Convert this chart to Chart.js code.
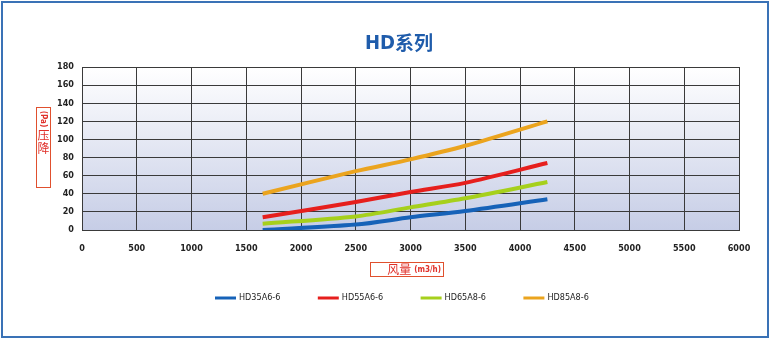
<!DOCTYPE html>
<html>
<head>
<meta charset="utf-8">
<script src="https://cdn.jsdelivr.net/npm/chart.js@4/dist/chart.umd.min.js"></script>
<style>
  html, body { margin: 0; padding: 0; background: #fff; }
  #wrap { width: 770px; height: 338px; position: relative; }
</style>
</head>
<body>
<div id="wrap"><canvas id="c"></canvas></div>
<script>
// 风量 (m3/h) sample points
const airflow = [1650, 2500, 3000, 3500, 4250];
const hd35 = [0, 6, 14, 21, 34];
const hd55 = [14, 31, 42, 52, 74];
const hd65 = [7, 15, 25, 35, 53];
const hd85 = [40, 65, 78, 93, 120];

const seriesNames = ['HD35A6-6', 'HD55A6-6', 'HD65A8-6', 'HD85A8-6'];
const seriesColors = ['#1662b8', '#e61f1d', '#a6d01c', '#eba41e'];
const xTicks = [0, 500, 1000, 1500, 2000, 2500, 3000, 3500, 4000, 4500, 5000, 5500, 6000];
const yTicks = [0, 20, 40, 60, 80, 100, 120, 140, 160, 180];

const narrow = "'DejaVu Sans Condensed', 'DejaVu Sans', sans-serif";
const cjkFont = "'Noto Sans CJK SC', sans-serif";

const toPoints = (vals) => vals.map((y, i) => ({ x: airflow[i], y }));

const datasets = [hd35, hd55, hd65, hd85].map((vals, i) => ({
  label: seriesNames[i],
  data: toPoints(vals),
  borderColor: seriesColors[i],
  backgroundColor: seriesColors[i],
  borderWidth: 4,
  pointRadius: 0,
  tension: 0.3,
  fill: false,
}));

const decor = {
  id: 'decor',
  beforeDraw(chart) {
    const { ctx, chartArea: a } = chart;
    const g = ctx.createLinearGradient(0, a.top, 0, a.bottom);
    g.addColorStop(0, '#ffffff');
    g.addColorStop(1, '#c6cde6');
    ctx.save();
    ctx.fillStyle = g;
    ctx.fillRect(a.left, a.top, a.right - a.left, a.bottom - a.top);
    ctx.restore();
  },
  afterDraw(chart) {
    const { ctx, width, height } = chart;
    ctx.save();

    // outer frame
    ctx.strokeStyle = '#3a72b6';
    ctx.lineWidth = 2;
    ctx.strokeRect(2, 2, width - 4, height - 3);

    // title
    ctx.fillStyle = '#1f5cab';
    ctx.textBaseline = 'middle';
    ctx.textAlign = 'left';
    ctx.font = `bold 20px ${narrow}`;
    const hdW = ctx.measureText('HD').width;
    ctx.font = `bold 19px ${cjkFont}`;
    const cjW = ctx.measureText('系列').width;
    const tx = 399 - (hdW + cjW) / 2;
    ctx.font = `bold 20px ${narrow}`;
    ctx.fillText('HD', tx, 44);
    ctx.font = `bold 19px ${cjkFont}`;
    ctx.fillText('系列', tx + hdW, 43);

    // y axis title box
    ctx.strokeStyle = '#e0502e';
    ctx.lineWidth = 1;
    ctx.strokeRect(36.5, 107.5, 14, 80);
    ctx.fillStyle = '#e0302a';
    ctx.save();
    ctx.translate(43.5, 119);
    ctx.rotate(Math.PI / 2);
    ctx.font = `bold 8px ${narrow}`;
    ctx.textAlign = 'center';
    ctx.textBaseline = 'middle';
    ctx.fillText('(Pa)', 0, 0);
    ctx.restore();
    ctx.font = `12px ${cjkFont}`;
    ctx.textAlign = 'center';
    ctx.textBaseline = 'middle';
    ctx.fillText('压', 43.5, 135);
    ctx.fillText('降', 43.5, 148);

    // x axis title box
    ctx.strokeRect(370.5, 262.5, 73, 14);
    ctx.textAlign = 'right';
    ctx.font = `bold 8px ${narrow}`;
    const unitW = ctx.measureText('(m3/h)').width;
    ctx.fillText('(m3/h)', 441, 270);
    ctx.font = `12px ${cjkFont}`;
    ctx.fillText('风量', 441 - unitW - 3, 269.5);

    // legend
    ctx.font = `9px ${narrow}`;
    ctx.textAlign = 'left';
    ctx.textBaseline = 'middle';
    chart.data.datasets.forEach((ds, i) => {
      const x = 215 + i * 102.8;
      ctx.strokeStyle = ds.borderColor;
      ctx.lineWidth = 3;
      ctx.beginPath();
      ctx.moveTo(x, 298);
      ctx.lineTo(x + 21, 298);
      ctx.stroke();
      ctx.fillStyle = '#222';
      ctx.fillText(ds.label, x + 24, 298);
    });

    ctx.restore();
  },
};

new Chart(document.getElementById('c'), {
  type: 'line',
  data: { datasets },
  plugins: [decor],
  options: {
    responsive: true,
    maintainAspectRatio: false,
    animation: false,
    layout: { padding: { top: 67, right: 31, left: 0, bottom: 0 } },
    plugins: { legend: { display: false }, tooltip: { enabled: false } },
    scales: {
      x: {
        type: 'linear',
        min: 0,
        max: 6000,
        afterBuildTicks: (s) => { s.ticks = xTicks.map((v) => ({ value: v })); },
        afterFit: (s) => { s.height = 108; },
        grid: { color: '#3a3a3a', lineWidth: 1, drawTicks: false },
        border: { color: '#3a3a3a' },
        ticks: {
          color: '#222', padding: 13, maxRotation: 0,
          font: { family: narrow, size: 9, weight: 'bold' },
          callback: (v) => String(v),
        },
      },
      y: {
        min: 0,
        max: 180,
        afterBuildTicks: (s) => { s.ticks = yTicks.map((v) => ({ value: v })); },
        afterFit: (s) => { s.width = 82; },
        grid: { color: '#3a3a3a', lineWidth: 1, drawTicks: false },
        border: { color: '#3a3a3a' },
        ticks: {
          color: '#222', padding: 8,
          font: { family: narrow, size: 9, weight: 'bold' },
          callback: (v) => String(v),
        },
      },
    },
  },
});
</script>
</body>
</html>
